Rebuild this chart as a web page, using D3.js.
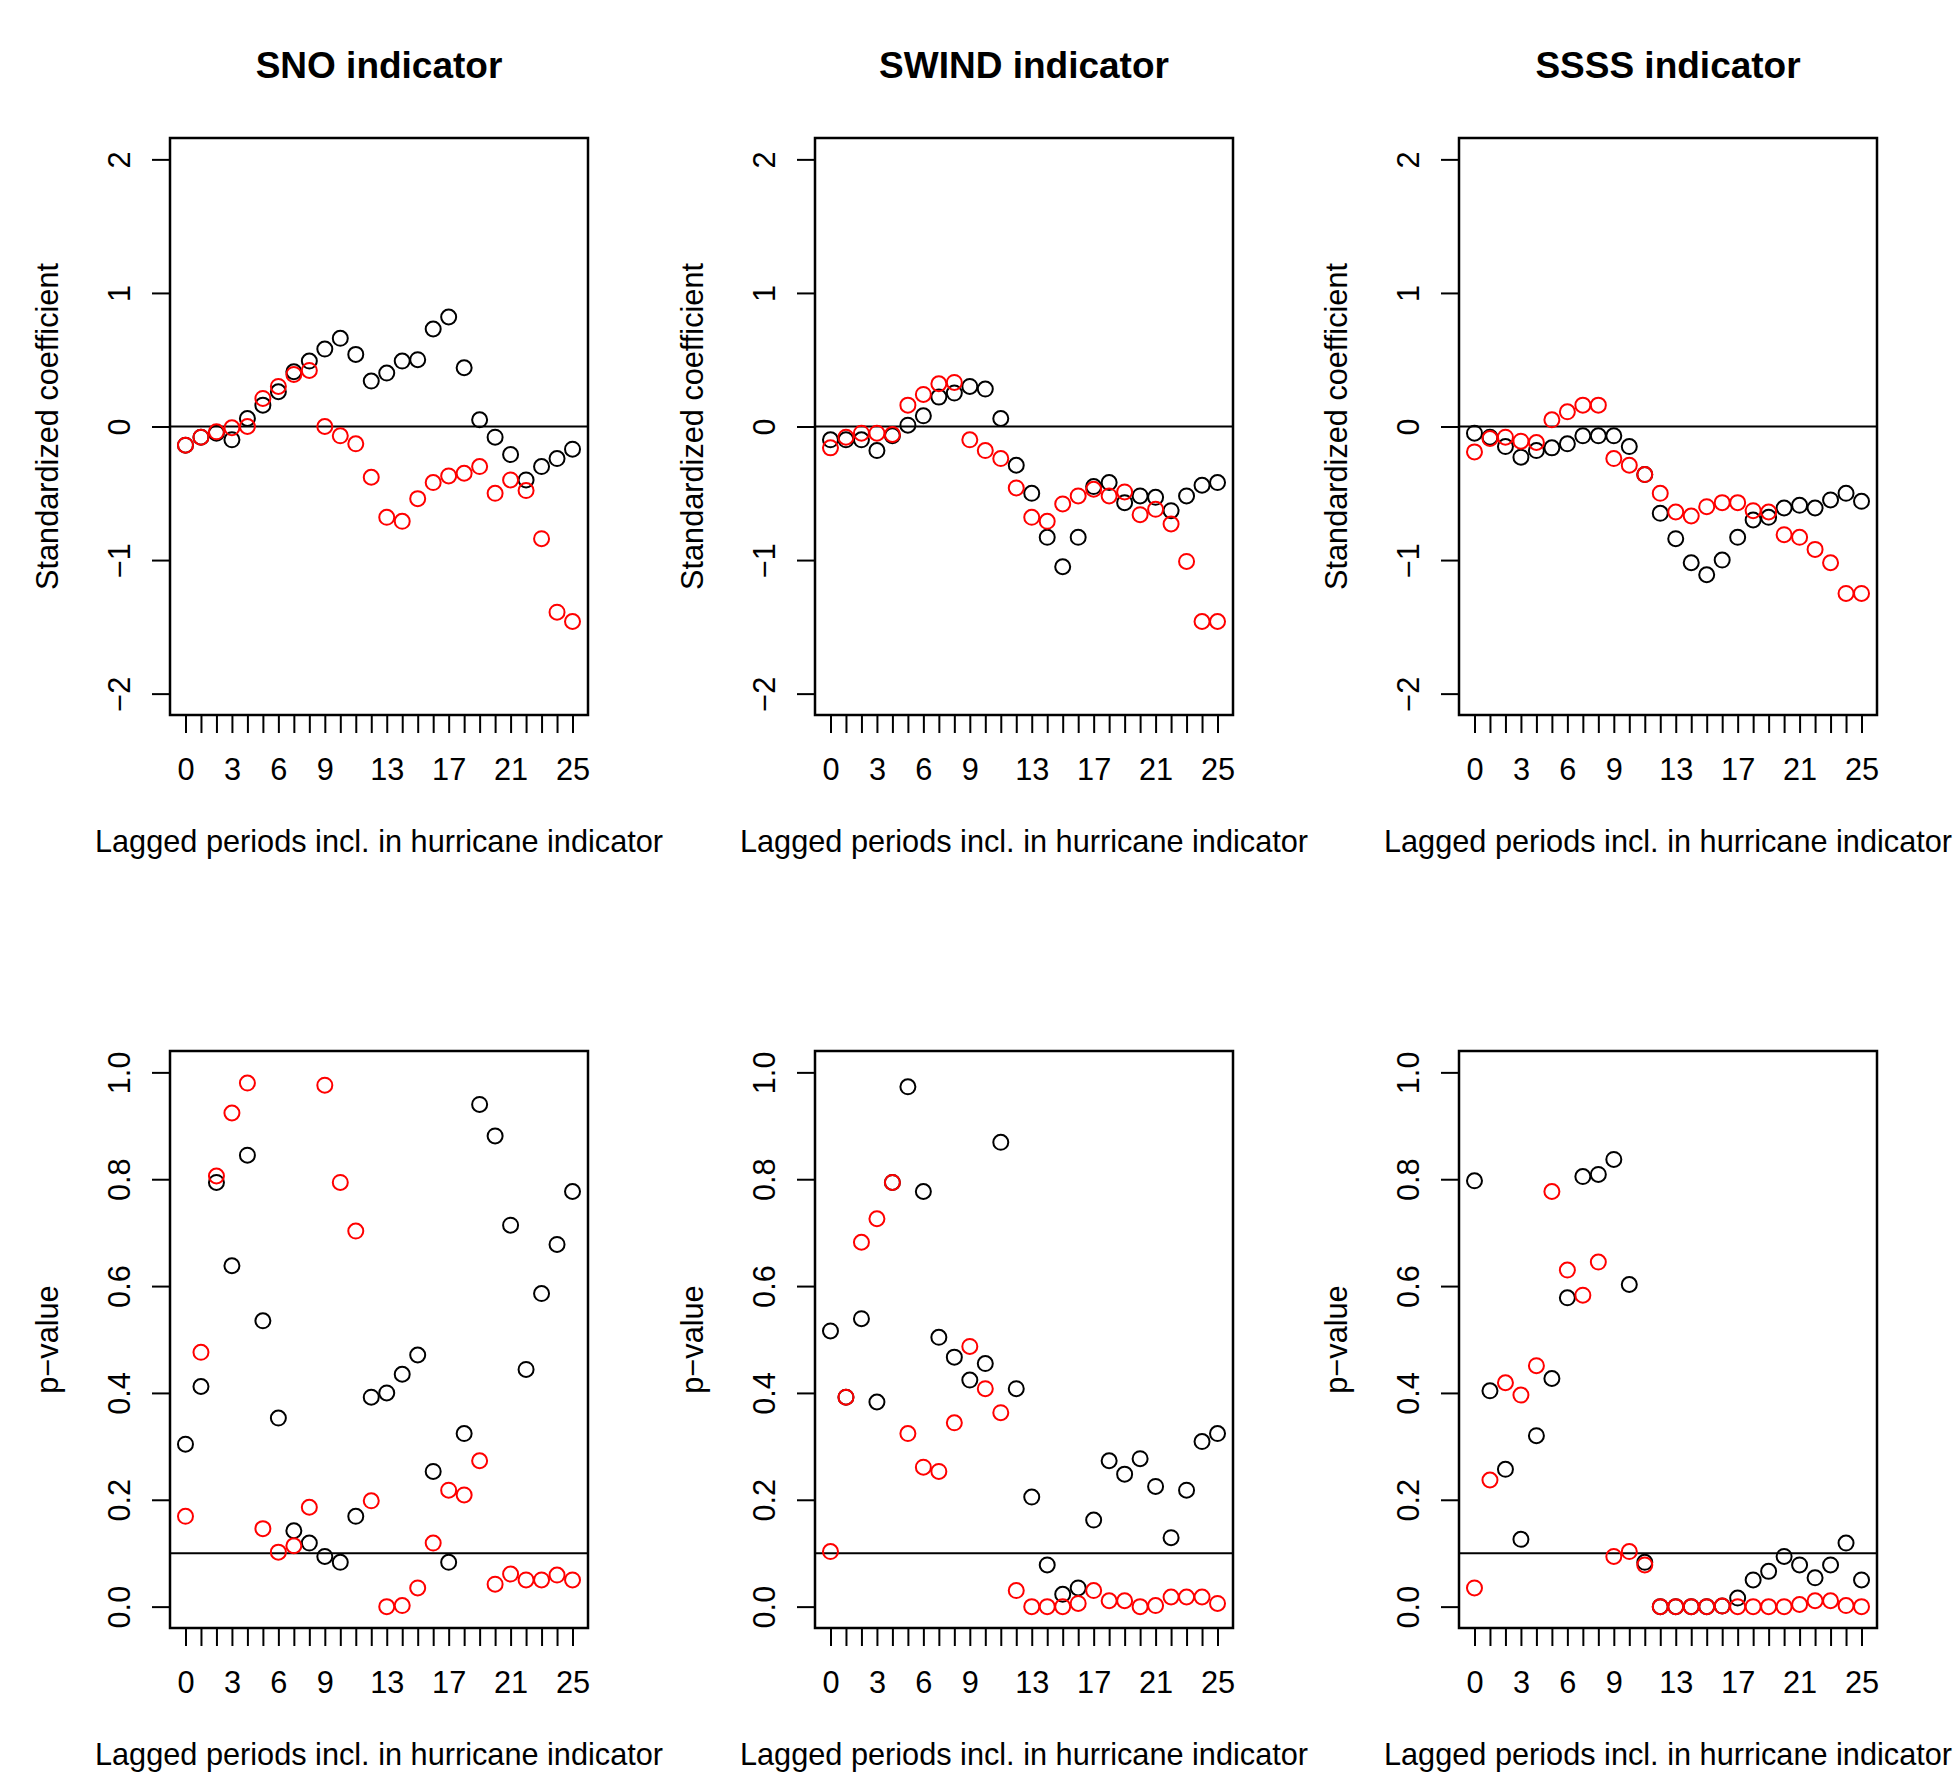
<!DOCTYPE html>
<html>
<head>
<meta charset="utf-8">
<script src="https://cdn.jsdelivr.net/npm/d3@7"></script>
<style>
  body { margin: 0; background: #fff; }
  text { font-family: "Liberation Sans", Arial, sans-serif; fill: #000; }
</style>
</head>
<body>
<div id="chart"></div>
<script>
// ----------------------------------------------
// Data
// ----------------------------------------------
var lags = d3.range(0, 26);
var lagLabels = [0, 3, 6, 9, 13, 17, 21, 25];
var coefTicks = [-2, -1, 0, 1, 2];
var pTicks = [0, 0.2, 0.4, 0.6, 0.8, 1.0];
var titles = ["SNO indicator", "SWIND indicator", "SSSS indicator"];

// standardized coefficients, black and red series
var snoCoefBlack = [-0.14, -0.08, -0.05, -0.10, 0.06, 0.16, 0.26, 0.41, 0.49, 0.58, 0.66, 0.54, 0.34, 0.40, 0.49, 0.50, 0.73, 0.82, 0.44, 0.05, -0.08, -0.21, -0.40, -0.30, -0.24, -0.17];
var snoCoefRed = [-0.14, -0.08, -0.04, -0.01, 0.00, 0.21, 0.30, 0.39, 0.42, 0.00, -0.07, -0.13, -0.38, -0.68, -0.71, -0.54, -0.42, -0.37, -0.35, -0.30, -0.50, -0.40, -0.48, -0.84, -1.39, -1.46];
var swindCoefBlack = [-0.10, -0.10, -0.10, -0.18, -0.07, 0.01, 0.08, 0.22, 0.25, 0.30, 0.28, 0.06, -0.29, -0.50, -0.83, -1.05, -0.83, -0.45, -0.42, -0.57, -0.52, -0.53, -0.63, -0.52, -0.44, -0.42];
var swindCoefRed = [-0.16, -0.08, -0.05, -0.05, -0.06, 0.16, 0.24, 0.32, 0.33, -0.10, -0.18, -0.24, -0.46, -0.68, -0.71, -0.58, -0.52, -0.47, -0.52, -0.49, -0.66, -0.62, -0.73, -1.01, -1.46, -1.46];
var ssssCoefBlack = [-0.05, -0.08, -0.15, -0.23, -0.18, -0.16, -0.13, -0.07, -0.07, -0.07, -0.15, -0.36, -0.65, -0.84, -1.02, -1.11, -1.00, -0.83, -0.70, -0.68, -0.61, -0.59, -0.61, -0.55, -0.50, -0.56];
var ssssCoefRed = [-0.19, -0.09, -0.08, -0.11, -0.12, 0.05, 0.11, 0.16, 0.16, -0.24, -0.29, -0.36, -0.50, -0.64, -0.67, -0.60, -0.57, -0.57, -0.63, -0.64, -0.81, -0.83, -0.92, -1.02, -1.25, -1.25];

// p-values, black and red series
var snoPBlack = [0.304, 0.412, 0.794, 0.638, 0.845, 0.535, 0.353, 0.142, 0.119, 0.094, 0.083, 0.169, 0.392, 0.400, 0.435, 0.471, 0.253, 0.083, 0.324, 0.940, 0.881, 0.714, 0.444, 0.586, 0.678, 0.777];
var snoPRed = [0.169, 0.476, 0.806, 0.924, 0.980, 0.146, 0.102, 0.114, 0.186, 0.976, 0.794, 0.703, 0.198, 0.000, 0.002, 0.035, 0.119, 0.218, 0.209, 0.273, 0.042, 0.061, 0.050, 0.050, 0.059, 0.050];
var swindPBlack = [0.516, 0.392, 0.539, 0.383, 0.794, 0.973, 0.777, 0.504, 0.467, 0.424, 0.455, 0.869, 0.408, 0.205, 0.078, 0.023, 0.035, 0.162, 0.273, 0.248, 0.277, 0.225, 0.129, 0.218, 0.309, 0.324];
var swindPRed = [0.103, 0.392, 0.682, 0.726, 0.794, 0.324, 0.261, 0.253, 0.344, 0.487, 0.408, 0.363, 0.030, 0.000, 0.000, 0.000, 0.006, 0.030, 0.011, 0.011, 0.000, 0.002, 0.018, 0.018, 0.018, 0.006];
var ssssPBlack = [0.797, 0.404, 0.257, 0.126, 0.320, 0.427, 0.578, 0.805, 0.809, 0.837, 0.603, 0.083, 0.000, 0.000, 0.000, 0.000, 0.001, 0.016, 0.050, 0.066, 0.094, 0.078, 0.054, 0.078, 0.119, 0.050];
var ssssPRed = [0.035, 0.237, 0.419, 0.396, 0.451, 0.777, 0.630, 0.583, 0.645, 0.094, 0.103, 0.078, 0.000, 0.000, 0.000, 0.000, 0.001, 0.000, 0.000, 0.000, 0.000, 0.004, 0.011, 0.011, 0.002, 0.000];

// ----------------------------------------------
// Layout
// ----------------------------------------------
var svgWidth = 1954;
var svgHeight = 1782;
var boxWidth = 418;
var boxHeight = 577;
var colLeft = [170, 815, 1459];
var rowTop = [138, 1051];
var fontSize = 30.7;

var svg = d3.select("#chart")
    .append("svg")
    .attr("width", svgWidth)
    .attr("height", svgHeight);

var xScale = d3.scaleLinear().domain([-1, 26]).range([0, boxWidth]);

var rows = [
    {
        yLabel: "Standardized coefficient",
        domain: [-2.16, 2.16],
        ticks: coefTicks,
        fmt: d => d < 0 ? "\u2212" + Math.abs(d) : d,
        refLine: 0,
        series: [[snoCoefBlack, snoCoefRed], [swindCoefBlack, swindCoefRed], [ssssCoefBlack, ssssCoefRed]]
    },
    {
        yLabel: "p\u2212value",
        domain: [-0.04, 1.04],
        ticks: pTicks,
        fmt: d3.format(".1f"),
        refLine: 0.1,
        series: [[snoPBlack, snoPRed], [swindPBlack, swindPRed], [ssssPBlack, ssssPRed]]
    }
];

rows.forEach((row, r) => {
    var yScale = d3.scaleLinear().domain(row.domain).range([boxHeight, 0]);

    colLeft.forEach((left, c) => {
        var g = svg.append("g")
            .attr("transform", `translate(${left}, ${rowTop[r]})`);

        // x axis, all lags ticked but only some labelled
        var xAxis = g.append("g")
            .attr("transform", `translate(0, ${boxHeight})`)
            .call(d3.axisBottom(xScale)
                .tickValues(lags)
                .tickSize(18)
                .tickSizeOuter(0)
                .tickFormat(d => lagLabels.includes(d) ? d : ""));
        xAxis.select(".domain").remove();
        xAxis.selectAll("line").attr("stroke", "#000").attr("stroke-width", 2);
        xAxis.append("line")
            .attr("x1", xScale(0)).attr("x2", xScale(25))
            .attr("stroke", "#000").attr("stroke-width", 2);
        xAxis.selectAll("text")
            .attr("y", 65)
            .attr("dy", null)
            .style("font-size", fontSize + "px")
            .attr("fill", "#000");

        // y axis with rotated labels
        var yAxis = g.append("g")
            .call(d3.axisLeft(yScale)
                .tickValues(row.ticks)
                .tickSize(18)
                .tickSizeOuter(0)
                .tickFormat(row.fmt));
        yAxis.select(".domain").remove();
        yAxis.selectAll("line").attr("stroke", "#000").attr("stroke-width", 2);
        yAxis.selectAll("text")
            .attr("x", null)
            .attr("dy", null)
            .attr("text-anchor", "middle")
            .attr("transform", "translate(-40,0) rotate(-90)")
            .style("font-size", fontSize + "px")
            .attr("fill", "#000");

        // reference line
        g.append("line")
            .attr("x1", 0).attr("x2", boxWidth)
            .attr("y1", yScale(row.refLine)).attr("y2", yScale(row.refLine))
            .attr("stroke", "#000").attr("stroke-width", 2);

        // points: black first, red drawn on top
        var colors = ["#000000", "#ff0000"];
        row.series[c].forEach((vals, s) => {
            g.selectAll(".pt" + s)
                .data(vals)
                .enter()
                .append("circle")
                .attr("cx", (d, i) => xScale(lags[i]))
                .attr("cy", d => yScale(d))
                .attr("r", 7.5)
                .attr("fill", "none")
                .attr("stroke", colors[s])
                .attr("stroke-width", 2);
        });

        // box
        g.append("rect")
            .attr("width", boxWidth)
            .attr("height", boxHeight)
            .attr("fill", "none")
            .attr("stroke", "#000")
            .attr("stroke-width", 2.5);

        // titles and axis labels
        if (r === 0) {
            g.append("text")
                .attr("x", boxWidth / 2)
                .attr("y", -60)
                .attr("text-anchor", "middle")
                .style("font-size", "37px")
                .style("font-weight", "bold")
                .text(titles[c]);
        }
        g.append("text")
            .attr("x", boxWidth / 2)
            .attr("y", boxHeight + 137)
            .attr("text-anchor", "middle")
            .style("font-size", fontSize + "px")
            .text("Lagged periods incl. in hurricane indicator");
        g.append("text")
            .attr("transform", `translate(-112, ${boxHeight / 2}) rotate(-90)`)
            .attr("text-anchor", "middle")
            .style("font-size", fontSize + "px")
            .text(row.yLabel);
    });
});
</script>
</body>
</html>
